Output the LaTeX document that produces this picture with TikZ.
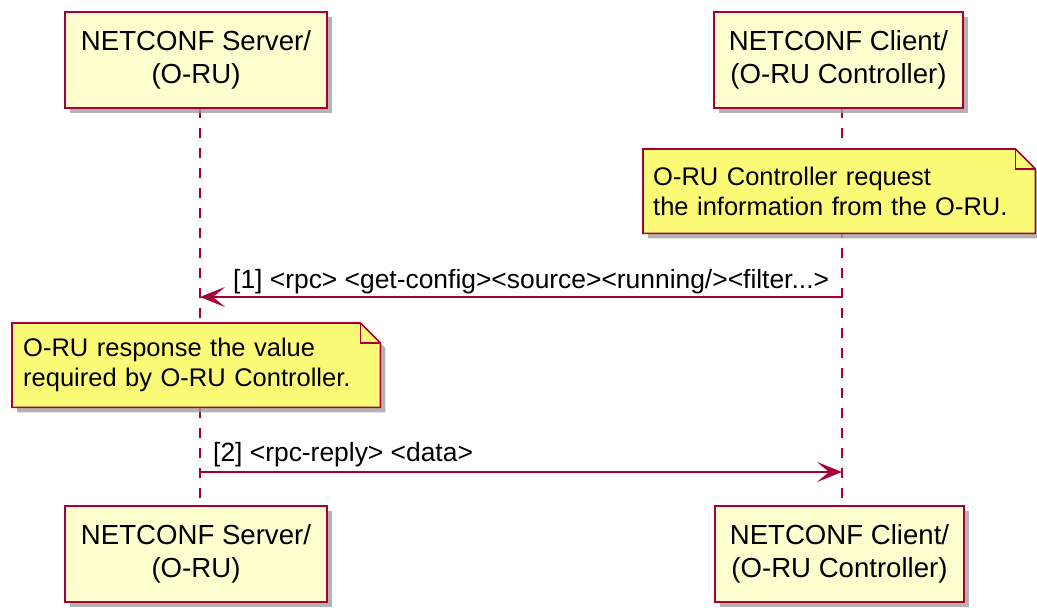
\documentclass[tikz,border=0pt]{standalone}
\usepackage{fontspec}
\setmainfont{Liberation Sans}
\usetikzlibrary{arrows.meta,shadows,calc}
\definecolor{pborder}{HTML}{A80036}
\definecolor{pfill}{HTML}{FEFECE}
\definecolor{nfill}{HTML}{FBFB77}
\definecolor{shadowgray}{HTML}{A0A0A0}
\pgfdeclarelayer{bg}
\pgfsetlayers{bg,main}
\begin{document}
\begin{tikzpicture}[x=1pt,y=-1pt,
  participant/.style={draw=pborder, fill=pfill, line width=2pt, minimum width=262pt,
    minimum height=96pt, align=center, inner sep=0pt,
    font=\fontsize{27.6}{33}\selectfont,
    drop shadow={shadow xshift=5pt, shadow yshift=-5pt, fill=shadowgray, opacity=0.8}},
  notetext/.style={anchor=north west, inner ysep=0pt, align=left,
    font=\fontsize{25.5}{30}\selectfont},
  notebody/.style={draw=pborder, fill=nfill, line width=1.6pt, line join=miter},
  noteshadow/.style={fill=shadowgray, opacity=0.8},
  lifeline/.style={draw=pborder, line width=1.6pt, dash pattern=on 10pt off 10pt},
  msg/.style={draw=pborder, line width=1.8pt, -{Stealth[length=25pt, width=20pt, inset=12pt]}},
  msglabel/.style={anchor=base west, inner sep=0pt, font=\fontsize{26.4}{30}\selectfont}
]
\useasboundingbox (0,0) rectangle (1037,608);

% participants
\node[participant] (srvTop) at (196,60) {NETCONF Server/\\(O-RU)};
\node[participant, minimum width=249pt] (cliTop) at (838.5,60) {NETCONF Client/\\(O-RU Controller)};
\node[participant] (srvBot) at (196,554) {NETCONF Server/\\(O-RU)};
\node[participant, minimum width=249pt] (cliBot) at (839.5,554) {NETCONF Client/\\(O-RU Controller)};

% lifelines
\coordinate (sT) at (200,108);
\coordinate (sB) at (200,506);
\coordinate (cT) at (842,108);
\coordinate (cB) at (842,506);
\begin{pgfonlayer}{bg}
\draw[lifeline] (sT) -- (sB);
\draw[lifeline] (cT) -- (cB);
\end{pgfonlayer}

% note 1
\node[notetext, minimum width=392pt, minimum height=84pt, text width=372pt, inner xsep=10pt]
  (n1) at (643,149) {O-RU Controller request\\the information from the O-RU.};
\begin{pgfonlayer}{bg}
\fill[noteshadow] ($(n1.north west)+(5,5)$) -- ($(n1.north east)+(-15,5)$) -- ($(n1.north east)+(5,25)$)
  -- ($(n1.south east)+(5,5)$) -- ($(n1.south west)+(5,5)$) -- cycle;
\path[notebody] (n1.north west) -- ($(n1.north east)+(-20,0)$) -- ($(n1.north east)+(0,20)$)
  -- (n1.south east) -- (n1.south west) -- cycle;
\draw[pborder, line width=1.6pt] ($(n1.north east)+(-20,0)$) -- ($(n1.north east)+(-20,20)$) -- ($(n1.north east)+(0,20)$);
\end{pgfonlayer}

% message 1
\coordinate (m1s) at (842,297);
\coordinate (m1e) at (200,297);
\draw[msg] (m1s) -- (m1e);
\node[msglabel] (l1) at (233,288) {[1] <rpc> <get-config><source><running/><filter...>};

% note 2
\node[notetext, minimum width=368pt, minimum height=84pt, text width=346pt, inner xsep=11pt]
  (n2) at (12,323) {O-RU response the value\\required by O-RU Controller.};
\begin{pgfonlayer}{bg}
\fill[noteshadow] ($(n2.north west)+(5,5)$) -- ($(n2.north east)+(-15,5)$) -- ($(n2.north east)+(5,25)$)
  -- ($(n2.south east)+(5,5)$) -- ($(n2.south west)+(5,5)$) -- cycle;
\path[notebody] (n2.north west) -- ($(n2.north east)+(-20,0)$) -- ($(n2.north east)+(0,20)$)
  -- (n2.south east) -- (n2.south west) -- cycle;
\draw[pborder, line width=1.6pt] ($(n2.north east)+(-20,0)$) -- ($(n2.north east)+(-20,20)$) -- ($(n2.north east)+(0,20)$);
\end{pgfonlayer}

% message 2
\coordinate (m2s) at (200,472);
\coordinate (m2e) at (842,472);
\draw[msg] (m2s) -- (m2e);
\node[msglabel] (l2) at (213,461) {[2] <rpc-reply> <data>};
\end{tikzpicture}
\end{document}
